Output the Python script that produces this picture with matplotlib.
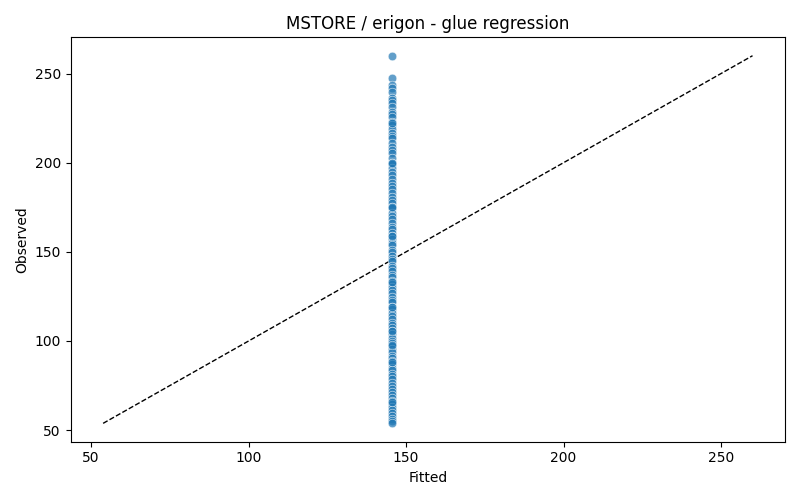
import matplotlib
matplotlib.use("Agg")
import matplotlib.pyplot as plt

FITTED_VALUE = 145.6
observed = [
    260.0, 247.6, 243.8, 242.1, 239.5, 236.2, 235.0, 233.4, 231.0, 228.3,
    227.1, 225.6, 222.9, 221.4, 219.0, 216.8, 215.2, 213.9, 211.3, 208.7,
    207.0, 205.4, 202.8, 200.1, 199.3, 197.0, 194.6, 193.2, 190.9, 188.4,
    187.1, 185.5, 183.0, 180.7, 179.2, 177.6, 175.3, 174.4, 172.0, 170.1,
    168.5, 166.2, 164.0, 162.8, 160.5, 158.9, 157.3, 155.0, 153.6, 151.2,
    149.8, 147.5, 146.1, 144.7, 142.3, 140.9, 139.5, 137.2, 135.8, 133.9,
    132.1, 130.4, 128.6, 126.9, 124.7, 123.0, 121.6, 119.2, 118.0, 115.7,
    114.1, 112.6, 110.3, 108.8, 107.2, 105.5, 104.0, 101.9, 100.2, 98.6,
    97.1, 95.3, 93.8, 91.6, 90.2, 88.7, 86.9, 85.0, 83.6, 81.4,
    80.1, 78.5, 76.2, 75.0, 73.3, 71.6, 69.8, 68.1, 66.5, 64.9,
    62.7, 61.5, 59.6, 57.8, 56.4, 54.9, 53.8,
    222.0, 200.0, 175.0, 159.0, 133.0, 119.0, 105.5, 98.0, 88.0, 66.0,
]
fitted = [FITTED_VALUE for _ in observed]

fig, ax = plt.subplots(figsize=(8, 5), dpi=100)
ax.scatter(fitted, observed, s=38, color="#1f77b4", alpha=0.7,
           edgecolors="white", linewidths=0.5, zorder=2)
lo = min(min(observed), min(fitted))
hi = max(max(observed), max(fitted))
ax.plot([lo, hi], [lo, hi], linestyle="--", color="black", linewidth=1, zorder=1)
ax.set_xlabel("Fitted")
ax.set_ylabel("Observed")
ax.set_title("MSTORE / erigon - glue regression")
fig.tight_layout()
fig.savefig("out.png", dpi=100)
